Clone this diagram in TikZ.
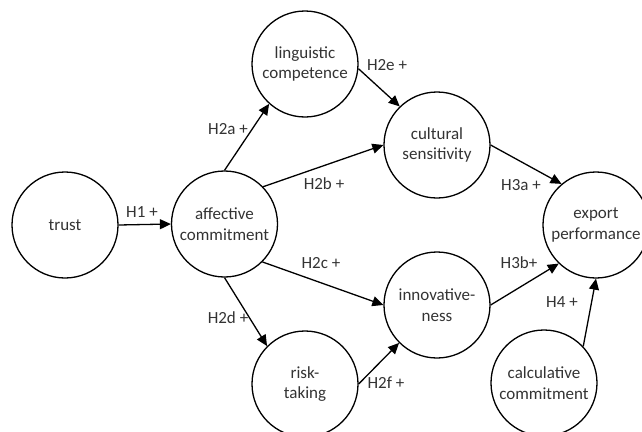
\documentclass[tikz,border=0pt]{standalone}
\usepackage{fontspec}
\setmainfont{Carlito}
\usetikzlibrary{arrows.meta}
\begin{document}
\begin{tikzpicture}[x=1pt,y=-1pt,
  construct/.style={circle,draw=black,line width=1.3pt,minimum size=106pt,inner sep=0pt,
    align=center,text=black!80,font=\fontsize{17}{20.5}\selectfont},
  link/.style={line width=1.3pt,-{Triangle[length=11pt,width=10pt]}},
  hyp/.style={inner sep=0pt,text=black!80,font=\fontsize{17}{20.5}\selectfont}]
\useasboundingbox (0,0) rectangle (642,431);
\clip (0,0) rectangle (642,431);

% constructs
\node[construct] (trust) at (65,225) {trust};
\node[construct] (aff) at (224.5,224) {affective\\commitment};
\node[construct] (ling) at (305,64) {linguistic\\competence};
\node[construct] (cult) at (437,145) {cultural\\sensitivity};
\node[construct] (innov) at (437,305) {innovative-\\ness};
\node[construct] (risk) at (305,384) {risk-\\taking};
\node[construct] (exp) at (596,225) {export\\performance};
\node[construct] (calc) at (544,383) {calculative\\commitment};

% hypothesised paths
\draw[link] (trust.east) -- (aff.west);
\draw[link] (aff.90) -- (ling.228);
\draw[link] (aff.44) -- (cult.180);
\draw[link] (ling.-5) -- (cult.134);
\draw[link] (aff.-45) -- (innov.180);
\draw[link] (aff.270) -- (risk.135);
\draw[link] (risk.0) -- (innov.225);
\draw[link] (cult.0) -- (exp.130);
\draw[link] (innov.0) -- (exp.226);
\draw[link] (calc.43) -- (exp.270);

% path labels
\node[hyp] (h1) at (142,212) {H1 +};
\node[hyp] (h2a) at (228,129) {H2a +};
\node[hyp] (h2b) at (324,184) {H2b +};
\node[hyp] (h2e) at (387,65) {H2e +};
\node[hyp] (h2c) at (321,263) {H2c +};
\node[hyp] (h2d) at (228,318) {H2d +};
\node[hyp] (h2f) at (386,383) {H2f +};
\node[hyp] (h3a) at (521,185) {H3a +};
\node[hyp] (h3b) at (519,263) {H3b+};
\node[hyp] (h4) at (562,302) {H4 +};
\end{tikzpicture}
\end{document}
